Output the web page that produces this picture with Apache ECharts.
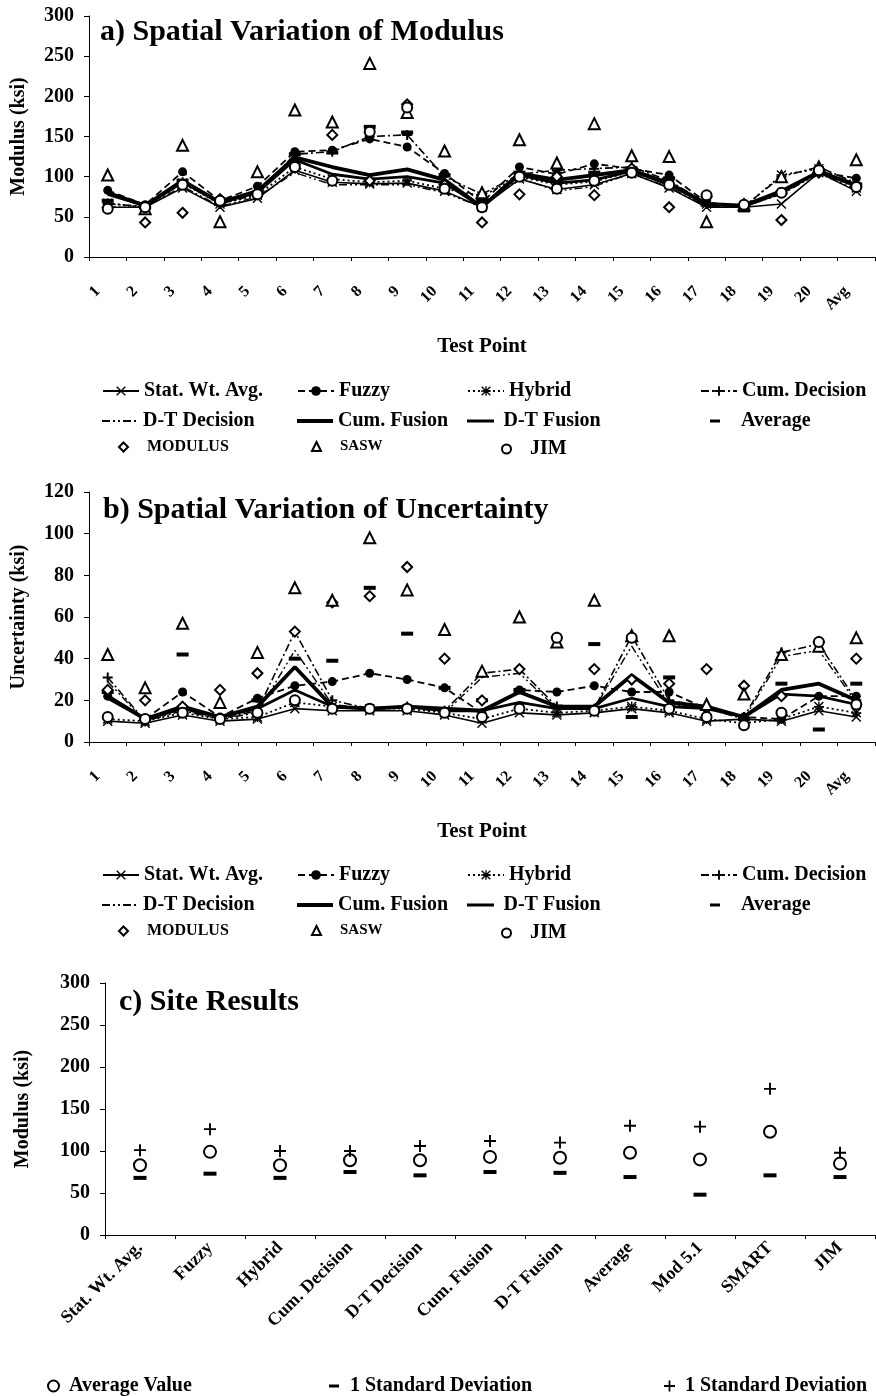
<!DOCTYPE html>
<html><head><meta charset="utf-8">
<script src="https://cdn.jsdelivr.net/npm/echarts@6/dist/echarts.min.js"></script>
<style>html,body{margin:0;padding:0;background:#fff}#c{width:876px;height:1396px}</style>
</head><body><div id="c"></div>
<script>
// ---------- DATA ----------
const testPoints = ['1','2','3','4','5','6','7','8','9','10','11','12','13','14','15','16','17','18','19','20','Avg'];

// a) Modulus (ksi)
const modStatWt  = [62, 62, 86, 62, 73, 108, 93, 91, 92, 82, 62, 97, 84, 90, 104, 86, 62, 62, 66, 105, 82];
const modFuzzy   = [83, 65, 106, 70, 88, 131, 133, 147, 137, 104, 68, 112, 103, 116, 110, 102, 68, 62, 81, 106, 98];
const modHybrid  = [67, 62, 92, 66, 77, 112, 97, 93, 95, 85, 76, 100, 90, 94, 106, 90, 66, 62, 102, 110, 86];
const modCumDec  = [66, 63, 93, 66, 78, 128, 131, 150, 152, 100, 78, 103, 108, 110, 112, 95, 67, 63, 100, 112, 92];
const modDTDec   = [62, 62, 88, 63, 75, 105, 90, 90, 90, 80, 62, 99, 82, 88, 104, 87, 63, 63, 78, 104, 84];
const modCumFus  = [80, 64, 95, 68, 82, 124, 112, 102, 109, 96, 62, 104, 96, 102, 108, 92, 66, 64, 82, 106, 90];
const modDTFus   = [78, 64, 93, 68, 80, 121, 103, 97, 100, 92, 62, 102, 92, 96, 107, 90, 66, 63, 80, 106, 88];
const modAverage = [70, 62, 95, 66, 80, 128, 130, 162, 155, 102, 70, 105, 95, 105, 110, 98, 65, 58, 80, 108, 90];
const modMODULUS = [62, 43, 55, 72, 80, 115, 152, 95, 190, 90, 43, 78, 100, 77, 110, 62, 75, 65, 46, 105, 87];
const modSASW    = [102, 60, 139, 44, 106, 183, 168, 241, 180, 132, 80, 146, 117, 166, 126, 125, 44, 65, 100, 112, 121];
const modJIM     = [60, 62, 90, 70, 78, 112, 95, 156, 186, 85, 62, 100, 85, 95, 105, 90, 77, 65, 80, 108, 87];

// b) Uncertainty (ksi)
const uncStatWt  = [10, 9, 13, 10, 11, 16, 15, 15, 15, 13, 9, 14, 13, 14, 16, 14, 10, 11, 10, 15, 12];
const uncFuzzy   = [22, 11, 24, 12, 21, 27, 29, 33, 30, 26, 14, 25, 24, 27, 24, 24, 16, 12, 11, 22, 22];
const uncHybrid  = [11, 10, 14, 11, 12, 19, 17, 16, 16, 14, 11, 16, 14, 15, 17, 15, 11, 9, 11, 17, 14];
const uncCumDec  = [31, 10, 16, 11, 15, 53, 20, 16, 17, 15, 33, 35, 17, 16, 51, 20, 17, 12, 43, 47, 20];
const uncDTDec   = [29, 10, 15, 11, 14, 44, 18, 16, 17, 14, 31, 33, 16, 16, 46, 18, 16, 11, 41, 44, 19];
const uncCumFus  = [22, 11, 17, 12, 17, 36, 17, 16, 17, 16, 15, 24, 17, 17, 32, 19, 17, 12, 25, 28, 20];
const uncDTFus   = [21, 11, 16, 12, 16, 25, 17, 16, 17, 15, 15, 19, 16, 16, 21, 17, 16, 12, 23, 22, 18];
const uncAverage = [24, 11, 42, 12, 20, 40, 39, 74, 52, 26, 20, 25, 17, 47, 12, 31, 16, 11, 28, 6, 28];
const uncMODULUS = [25, 20, 17, 25, 33, 53, 67, 70, 84, 40, 20, 35, 50, 35, 30, 28, 35, 27, 22, 48, 40];
const uncSASW    = [42, 26, 57, 19, 43, 74, 68, 98, 73, 54, 34, 60, 48, 68, 51, 51, 18, 23, 42, 46, 50];
const uncJIM     = [12, 11, 14, 11, 14, 20, 16, 16, 16, 14, 12, 16, 50, 15, 50, 16, 12, 8, 14, 48, 18];

// c) Site results
const siteMethods = ['Stat. Wt. Avg.','Fuzzy','Hybrid','Cum. Decision','D-T Decision','Cum. Fusion','D-T Fusion','Average','Mod 5.1','SMART','JIM'];
const siteAvg   = [83, 99, 83, 89, 89, 93, 92, 98, 90, 123, 85];
const siteMinus = [68, 73, 68, 75, 71, 75, 74, 69, 48, 71, 69];
const sitePlus  = [101, 126, 100, 100, 106, 112, 110, 130, 129, 174, 98];

const modTicks = [0, 50, 100, 150, 200, 250, 300];
const uncTicks = [0, 20, 40, 60, 80, 100, 120];

// ---------- STYLE ----------
const FONT = 'Liberation Serif';
const SYM_X = 'path://M1,0L5,4L9,0L10,1L6,5L10,9L9,10L5,6L1,10L0,9L4,5L0,1Z';
const SYM_PLUS = 'path://M4,0H6V4H10V6H6V10H4V6H0V4H4Z';
const SYM_PLUS_THIN = 'path://M4.2,0H5.8V4.2H10V5.8H5.8V10H4.2V5.8H0V4.2H4.2Z';
const SYM_AST = 'path://M4.3,0H5.7V4.3H10V5.7H5.7V10H4.3V5.7H0V4.3H4.3Z M1,0L5,4L9,0L10,1L6,5L10,9L9,10L5,6L1,10L0,9L4,5L0,1Z';
const SYM_MINUS = 'path://M0,0H10V3H0Z';
const ICON_DTDEC = 'path://M0,0H8V2H0Z M11,0H13V2H11Z M16,0H18V2H16Z M21,0H29V2H21Z M32,0H34V2H32Z';
const ICON_THICK = 'path://M0,0H36V4H0Z';

const lineDefs = [
  {name:'Stat. Wt. Avg.', type:'solid', width:1.6, symbol:SYM_X, size:10},
  {name:'Fuzzy', type:[7,4], width:1.8, symbol:'circle', size:9},
  {name:'Hybrid', type:[2,3], width:1.8, symbol:SYM_AST, size:10},
  {name:'Cum. Decision', type:[8,3,2,3], width:1.6, symbol:SYM_PLUS, size:10},
  {name:'D-T Decision', type:[8,3,2,3,2,3], width:1.4, symbol:'none', size:0, icon:ICON_DTDEC, iw:34, ih:2},
  {name:'Cum. Fusion', type:'solid', width:3.8, symbol:'none', size:0, icon:ICON_THICK, iw:36, ih:4},
  {name:'D-T Fusion', type:'solid', width:2.8, symbol:'none', size:0, icon:ICON_THICK, iw:36, ih:3}
];
const pointDefs = [
  {name:'Average', symbol:SYM_MINUS, size:[12,4]},
  {name:'MODULUS', symbol:'emptyDiamond', size:10},
  {name:'SASW', symbol:'emptyTriangle', size:11},
  {name:'JIM', symbol:'emptyCircle', size:10}
];

const modLines = [modStatWt, modFuzzy, modHybrid, modCumDec, modDTDec, modCumFus, modDTFus];
const modPoints = [modAverage, modMODULUS, modSASW, modJIM];
const uncLines = [uncStatWt, uncFuzzy, uncHybrid, uncCumDec, uncDTDec, uncCumFus, uncDTFus];
const uncPoints = [uncAverage, uncMODULUS, uncSASW, uncJIM];

function buildSeries(lines, points, idx) {
  const s = [];
  lineDefs.forEach((d, i) => {
    s.push({
      type:'line', name:d.name, xAxisIndex:idx, yAxisIndex:idx, data:lines[i],
      symbol:d.symbol, symbolSize:d.size, showSymbol:d.symbol !== 'none',
      lineStyle:{color:'#000', width:d.width, type:d.type},
      itemStyle:{color:'#000', opacity:1},
      z: 3
    });
  });
  pointDefs.forEach((d, i) => {
    const empty = d.symbol.indexOf('empty') === 0;
    s.push({
      type:'scatter', name:d.name, xAxisIndex:idx, yAxisIndex:idx, data:points[i],
      symbol:d.symbol, symbolSize:d.size,
      itemStyle:{color:'#000', borderColor:'#000', borderWidth: empty ? 1.8 : 0, opacity:1},
      z: 4
    });
  });
  return s;
}

const series = buildSeries(modLines, modPoints, 0).concat(buildSeries(uncLines, uncPoints, 1));
series.push({type:'scatter', name:'Average Value', xAxisIndex:2, yAxisIndex:2, data:siteAvg,
  symbol:'emptyCircle', symbolSize:12, itemStyle:{color:'#000', borderColor:'#000', borderWidth:2, opacity:1}});
series.push({type:'scatter', name:'-1 Standard Deviation', xAxisIndex:2, yAxisIndex:2, data:siteMinus,
  symbol:SYM_MINUS, symbolSize:[13,4], itemStyle:{color:'#000', opacity:1}});
series.push({type:'scatter', name:'+1 Standard Deviation', xAxisIndex:2, yAxisIndex:2, data:sitePlus,
  symbol:SYM_PLUS_THIN, symbolSize:12, itemStyle:{color:'#000', opacity:1}});

// ---------- LEGENDS ----------
const legendCols = [97, 292, 462, 695];
const legendRows = [
  ['Stat. Wt. Avg.','Fuzzy','Hybrid','Cum. Decision'],
  ['D-T Decision','Cum. Fusion','D-T Fusion','Average'],
  ['MODULUS','SASW','JIM']
];
const legendFont = {'MODULUS':16, 'SASW':15};
const pointShift = {'MODULUS':16, 'SASW':14, 'JIM':34, 'Average':10};
function buildLegends(rowTops) {
  const out = [];
  legendRows.forEach((row, r) => {
    row.forEach((name, c) => {
      const pd = pointDefs.find(p => p.name === name);
      const ld = lineDefs.find(p => p.name === name);
      const fs = legendFont[name] || 20;
      if (pd) {
        const isMinus = name === 'Average';
        out.push({
          data:[{name:name, icon:pd.symbol}], left: legendCols[c] + pointShift[name], top: rowTops[r],
          itemWidth: isMinus ? 10 : 9, itemHeight: isMinus ? 3 : 9, selectedMode:false,
          itemStyle:{color:'#000', borderColor:'#000', borderWidth: isMinus ? 0 : 1.4},
          textStyle:{fontFamily:FONT, fontWeight:'bold', fontSize:fs, color:'#000', padding:[0,0,0, isMinus ? 16 : 14]}
        });
      } else if (ld.icon) {
        out.push({
          data:[{name:name, icon:ld.icon}], left: legendCols[c], top: rowTops[r], itemWidth:ld.iw, itemHeight:ld.ih,
          selectedMode:false, itemStyle:{color:'#000', borderWidth:0}, lineStyle:{width:0},
          textStyle:{fontFamily:FONT, fontWeight:'bold', fontSize:fs, color:'#000', padding:[0,0,0, 36 - ld.iw]}
        });
      } else {
        out.push({
          data:[name], left: legendCols[c], top: rowTops[r], itemWidth:36, itemHeight:12, selectedMode:false,
          textStyle:{fontFamily:FONT, fontWeight:'bold', fontSize:fs, color:'#000'}
        });
      }
    });
  });
  return out;
}
const legends = buildLegends([376, 406, 434]).concat(buildLegends([860, 890, 918]));
const siteLegend = [
  {name:'Average Value', left:42},
  {name:'-1 Standard Deviation', left:324},
  {name:'+1 Standard Deviation', left:659}
];
siteLegend.forEach(l => {
  const s = series.find(x => x.name === l.name);
  const circ = l.name === 'Average Value';
  legends.push({
    data:[{name:l.name, icon:s.symbol}], left:l.left, top:1371, selectedMode:false,
    itemWidth: l.name[0] === '-' ? 12 : 11, itemHeight: l.name[0] === '-' ? 3 : 11,
    itemStyle: circ ? {color:'#000', borderColor:'#000', borderWidth:1.6} : {color:'#000', borderWidth:0},
    formatter: n => n.replace(/^[+-]/, ''),
    textStyle:{fontFamily:FONT, fontWeight:'bold', fontSize:20, color:'#000', padding:[0,0,0,5]}
  });
});

// ---------- AXES ----------
const axisText = {fontFamily:FONT, fontWeight:'bold', color:'#000'};
function catAxis(idx, data, fontSize, margin, padRight, name) {
  return {
    type:'category', gridIndex:idx, data:data, boundaryGap:true,
    axisLine:{lineStyle:{color:'#000', width:1}},
    axisTick:{show:true, length:4, lineStyle:{color:'#000'}},
    axisLabel:Object.assign({rotate:45, fontSize:fontSize, margin:margin, interval:0, padding:[0, padRight, 0, 0]}, axisText),
    name:name, nameLocation:'middle', nameGap:79,
    nameTextStyle:Object.assign({fontSize:21}, axisText)
  };
}
function valAxis(idx, ticks, name, gap) {
  return {
    type:'value', gridIndex:idx, min:ticks[0], max:ticks[ticks.length-1], interval:ticks[1]-ticks[0],
    axisLine:{show:true, lineStyle:{color:'#000', width:1}},
    axisTick:{show:true, inside:false, length:5, lineStyle:{color:'#000'}},
    splitLine:{show:false},
    axisLabel:Object.assign({fontSize:20, margin:15}, axisText),
    name:name, nameLocation:'middle', nameGap:gap, nameRotate:90,
    nameTextStyle:Object.assign({fontSize:20}, axisText)
  };
}

const titleStyle = {fontFamily:FONT, fontWeight:'bold', fontSize:30, color:'#000'};
const option = {
  animation:false,
  backgroundColor:'#fff',
  title:[
    {text:'a) Spatial Variation of Modulus', left:95, top:12, textStyle:titleStyle},
    {text:'b) Spatial Variation of Uncertainty', left:98, top:490, textStyle:titleStyle},
    {text:'c) Site Results', left:114, top:982, textStyle:titleStyle}
  ],
  legend:legends,
  grid:[
    {left:89, top:16, width:786, height:241},
    {left:89, top:492, width:786, height:250},
    {left:105, top:983, width:770, height:252}
  ],
  xAxis:[
    catAxis(0, testPoints, 16, 22, 14, 'Test Point'),
    catAxis(1, testPoints, 16, 22, 14, 'Test Point'),
    catAxis(2, siteMethods, 18, 10, 0, '')
  ],
  yAxis:[
    valAxis(0, modTicks, 'Modulus (ksi)', 60),
    valAxis(1, uncTicks, 'Uncertainty (ksi)', 60),
    valAxis(2, modTicks, 'Modulus (ksi)', 72)
  ],
  series:series
};
const chart = echarts.init(document.getElementById('c'), null, {renderer:'canvas'});
chart.setOption(option);
</script></body></html>
